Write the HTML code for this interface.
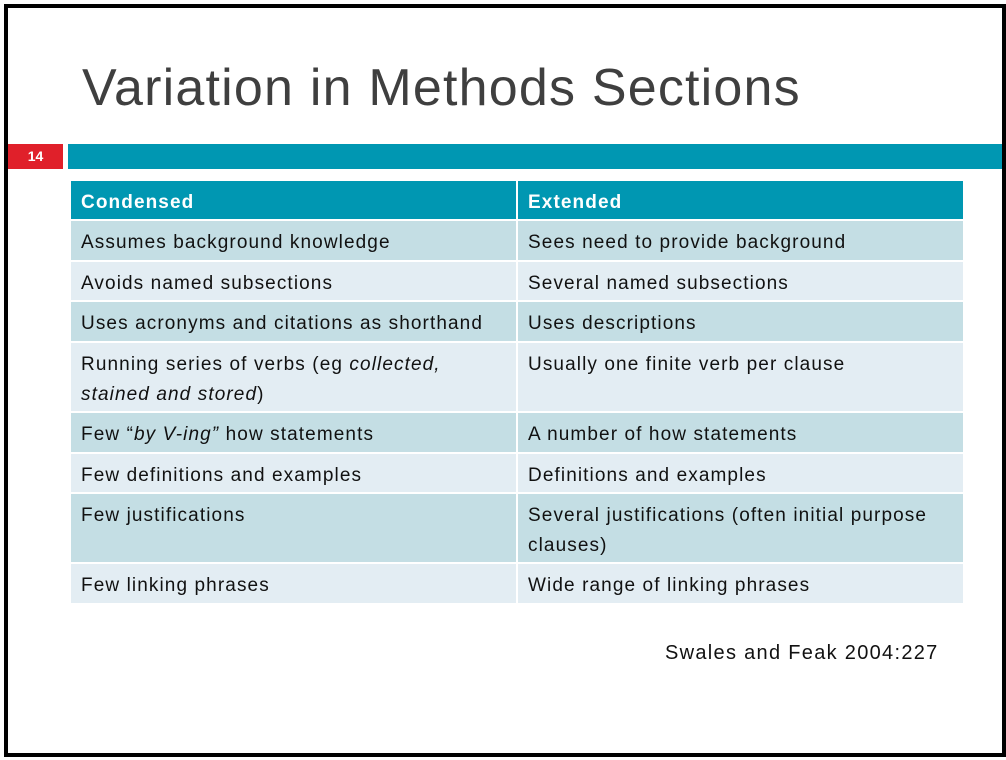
<!DOCTYPE html>
<html><head><meta charset="utf-8"><style>
body{margin:0;width:1006px;height:760px;background:#fff;position:relative;overflow:hidden;font-family:"Liberation Sans",sans-serif}
.frame{position:absolute;left:4px;top:4px;width:994px;height:745px;border:4px solid #000}
.title{position:absolute;left:82px;top:58px;font-size:52px;color:#3f3f3f;letter-spacing:1.2px}
.red{position:absolute;left:8px;top:144px;width:55px;height:25px;background:#e0202a;color:#fff;font-weight:bold;font-size:14px;text-align:center;line-height:25px}
.bar{position:absolute;left:68px;top:144px;width:934px;height:25px;background:#0097b2}
.c{position:absolute;box-sizing:border-box;padding:8px 10px;font-size:19px;color:#111;line-height:30px;letter-spacing:1.1px;padding-top:7px}
.h{background:#0097b2;color:#fff;font-weight:bold}
.a{background:#c4dee4}.b{background:#e3edf3}
.src{position:absolute;left:665px;top:642px;font-size:20px;color:#111;letter-spacing:1.3px}
</style></head><body>
<div class="frame"></div>
<div class="title">Variation in Methods Sections</div>
<div class="red">14</div><div class="bar"></div>

<div class="c h" style="left:71px;top:181px;width:445px;height:38px">Condensed</div>
<div class="c h" style="left:518px;top:181px;width:445px;height:38px">Extended</div>

<div class="c a" style="left:71px;top:221px;width:445px;height:39px">Assumes background knowledge</div>
<div class="c a" style="left:518px;top:221px;width:445px;height:39px">Sees need to provide background</div>

<div class="c b" style="left:71px;top:262px;width:445px;height:38px">Avoids named subsections</div>
<div class="c b" style="left:518px;top:262px;width:445px;height:38px">Several named subsections</div>

<div class="c a" style="left:71px;top:302px;width:445px;height:39px">Uses acronyms and citations as shorthand</div>
<div class="c a" style="left:518px;top:302px;width:445px;height:39px">Uses descriptions</div>

<div class="c b" style="left:71px;top:343px;width:445px;height:68px">Running series of verbs (eg <i>collected,<br>stained and stored</i>)</div>
<div class="c b" style="left:518px;top:343px;width:445px;height:68px">Usually one finite verb per clause</div>

<div class="c a" style="left:71px;top:413px;width:445px;height:39px">Few “<i>by V-ing”</i> how statements</div>
<div class="c a" style="left:518px;top:413px;width:445px;height:39px">A number of how statements</div>

<div class="c b" style="left:71px;top:454px;width:445px;height:38px">Few definitions and examples</div>
<div class="c b" style="left:518px;top:454px;width:445px;height:38px">Definitions and examples</div>

<div class="c a" style="left:71px;top:494px;width:445px;height:68px">Few justifications</div>
<div class="c a" style="left:518px;top:494px;width:445px;height:68px">Several justifications (often initial purpose<br>clauses)</div>

<div class="c b" style="left:71px;top:564px;width:445px;height:39px">Few linking phrases</div>
<div class="c b" style="left:518px;top:564px;width:445px;height:39px">Wide range of linking phrases</div>

<div class="src">Swales and Feak 2004:227</div>
</body></html>
